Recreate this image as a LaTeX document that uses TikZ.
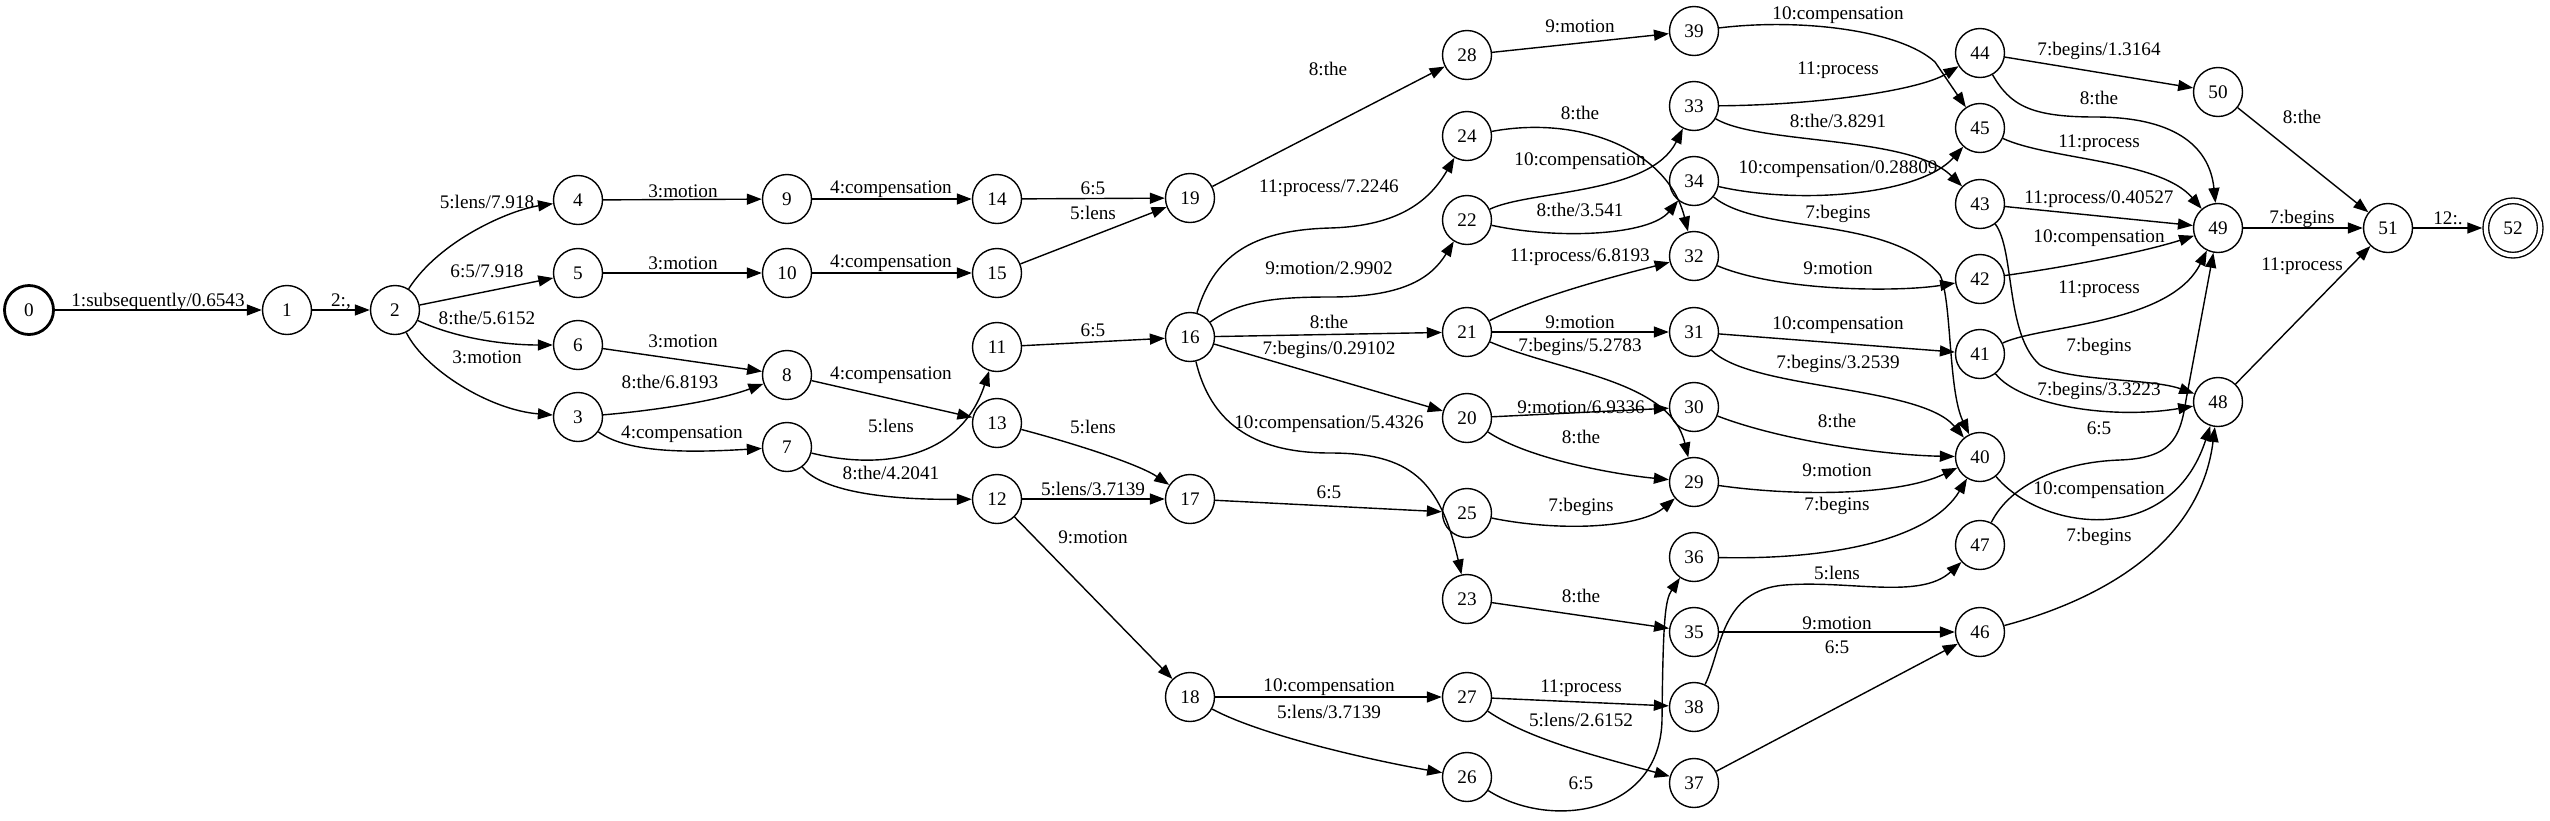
\documentclass[tikz,border=0pt]{standalone}
\usepackage{fontspec}
\setmainfont{Liberation Serif}
\usetikzlibrary{arrows.meta}

\begin{document}
\begin{tikzpicture}[
					x=0.5pt, y=-0.5pt,
					statenode/.style={
						draw,
						circle,
						minimum size=24.5pt,
						inner sep=0pt,
						line width=0.7pt,
						font=\fontsize{9.6}{11}\selectfont
					},
					startstate/.style={
						statenode,
						line width=1.4pt
					},
					finalstate/.style={
						statenode,
						double,
						double distance=2.1pt,
						minimum size=27.2pt,
						outer sep=1.75pt
					},
					edgeline/.style={
						-{Triangle[length=7.5pt, width=5.5pt]},
						line width=0.7pt
					},
					edgelabel/.style={
						inner sep=0pt,
						font=\fontsize{9.6}{11}\selectfont
					}
					]
					
					\useasboundingbox (0,0) rectangle (2550,820);
					
					% States
					\node (n0) [startstate] at (29,310) {0};
					\node (n1) [statenode] at (287,310) {1};
					\node (n2) [statenode] at (395,310) {2};
					\node (n4) [statenode] at (578,200) {4};
					\node (n5) [statenode] at (578,273) {5};
					\node (n6) [statenode] at (578,345) {6};
					\node (n3) [statenode] at (578,417) {3};
					\node (n9) [statenode] at (787,199) {9};
					\node (n10) [statenode] at (787,273) {10};
					\node (n8) [statenode] at (787,375) {8};
					\node (n7) [statenode] at (787,447) {7};
					\node (n14) [statenode] at (997,199) {14};
					\node (n15) [statenode] at (997,273) {15};
					\node (n11) [statenode] at (997,347) {11};
					\node (n13) [statenode] at (997,423) {13};
					\node (n12) [statenode] at (997,499) {12};
					\node (n19) [statenode] at (1190,198) {19};
					\node (n16) [statenode] at (1190,337) {16};
					\node (n17) [statenode] at (1190,499) {17};
					\node (n18) [statenode] at (1190,697) {18};
					\node (n28) [statenode] at (1467,55) {28};
					\node (n24) [statenode] at (1467,136) {24};
					\node (n22) [statenode] at (1467,220) {22};
					\node (n21) [statenode] at (1467,332) {21};
					\node (n20) [statenode] at (1467,418) {20};
					\node (n25) [statenode] at (1467,513) {25};
					\node (n23) [statenode] at (1467,599) {23};
					\node (n27) [statenode] at (1467,697) {27};
					\node (n26) [statenode] at (1467,777) {26};
					\node (n39) [statenode] at (1694,31) {39};
					\node (n33) [statenode] at (1694,106) {33};
					\node (n34) [statenode] at (1694,181) {34};
					\node (n32) [statenode] at (1694,256) {32};
					\node (n31) [statenode] at (1694,332) {31};
					\node (n30) [statenode] at (1694,407) {30};
					\node (n29) [statenode] at (1694,482) {29};
					\node (n36) [statenode] at (1694,557) {36};
					\node (n35) [statenode] at (1694,632) {35};
					\node (n38) [statenode] at (1694,707) {38};
					\node (n37) [statenode] at (1694,783) {37};
					\node (n44) [statenode] at (1980,53) {44};
					\node (n45) [statenode] at (1980,128) {45};
					\node (n43) [statenode] at (1980,204) {43};
					\node (n42) [statenode] at (1980,279) {42};
					\node (n41) [statenode] at (1980,354) {41};
					\node (n40) [statenode] at (1980,457) {40};
					\node (n47) [statenode] at (1980,545) {47};
					\node (n46) [statenode] at (1980,632) {46};
					\node (n50) [statenode] at (2218,92) {50};
					\node (n49) [statenode] at (2218,228) {49};
					\node (n48) [statenode] at (2218,402) {48};
					\node (n51) [statenode] at (2388,228) {51};
					\node (n52) [finalstate] at (2513,228) {52};
					
					% Arcs, first columns
					\draw [edgeline] (n0) -- (n1) node [edgelabel] at (158,302) {1:subsequently/0.6543};
					\draw [edgeline] (n1) -- (n2) node [edgelabel] at (341,302) {2:,};
					\draw [edgeline] (n2) .. controls (440,240) and (510,210) .. (n4) node [edgelabel] at (487,202) {5:lens/7.918};
					\draw [edgeline] (n2) -- (n5) node [edgelabel] at (487,271) {6:5/7.918};
					\draw [edgeline] (n2) .. controls (460,340) and (510,345) .. (n6) node [edgelabel] at (487,318) {8:the/5.6152};
					\draw [edgeline] (n2) .. controls (425,370) and (490,410) .. (n3) node [edgelabel] at (487,357) {3:motion};
					\draw [edgeline] (n4) -- (n9) node [edgelabel] at (683,191) {3:motion};
					\draw [edgeline] (n5) -- (n10) node [edgelabel] at (683,263) {3:motion};
					\draw [edgeline] (n6) -- (n8) node [edgelabel] at (683,341) {3:motion};
					\draw [edgeline] (n3) .. controls (660,410) and (720,400) .. (n8) node [edgelabel] at (670,382) {8:the/6.8193};
					\draw [edgeline] (n3) .. controls (630,455) and (700,452) .. (n7) node [edgelabel] at (682,434) {4:compensation};
					\draw [edgeline] (n9) -- (n14) node [edgelabel] at (891,189) {4:compensation};
					\draw [edgeline] (n10) -- (n15) node [edgelabel] at (891,263) {4:compensation};
					\draw [edgeline] (n8) -- (n13) node [edgelabel] at (891,375) {4:compensation};
					\draw [edgeline] (n7) .. controls (880,470) and (960,460) .. (n11) node [edgelabel] at (891,426) {5:lens};
					\draw [edgeline] (n7) .. controls (820,490) and (880,500) .. (n12) node [edgelabel] at (891,473) {8:the/4.2041};
					\draw [edgeline] (n14) -- (n19) node [edgelabel] at (1093,188) {6:5};
					\draw [edgeline] (n15) -- (n19) node [edgelabel] at (1093,213) {5:lens};
					\draw [edgeline] (n11) -- (n16) node [edgelabel] at (1093,330) {6:5};
					\draw [edgeline] (n13) .. controls (1080,445) and (1140,465) .. (n17) node [edgelabel] at (1093,427) {5:lens};
					\draw [edgeline] (n12) -- (n17) node [edgelabel] at (1093,489) {5:lens/3.7139};
					\draw [edgeline] (n12) -- (n18) node [edgelabel] at (1093,537) {9:motion};
					
					% Arcs, middle columns
					\draw [edgeline] (n19) -- (n28) node [edgelabel] at (1328,69) {8:the};
					\draw [edgeline] (n16) .. controls (1215,250) and (1260,230) .. (1330,228) .. controls (1400,226) and (1430,200) .. (n24) node [edgelabel] at (1329,188) {11:process/7.2246};
					\draw [edgeline] (n16) .. controls (1240,300) and (1280,297) .. (1330,297) .. controls (1400,297) and (1430,280) .. (n22) node [edgelabel] at (1329,268) {9:motion/2.9902};
					\draw [edgeline] (n16) -- (n21) node [edgelabel] at (1329,322) {8:the};
					\draw [edgeline] (n16) -- (n20) node [edgelabel] at (1329,350) {7:begins/0.29102};
					\draw [edgeline] (n16) .. controls (1210,420) and (1250,453) .. (1330,453) .. controls (1410,453) and (1440,480) .. (n23) node [edgelabel] at (1329,424) {10:compensation/5.4326};
					\draw [edgeline] (n17) -- (n25) node [edgelabel] at (1329,492) {6:5};
					\draw [edgeline] (n18) -- (n27) node [edgelabel] at (1329,687) {10:compensation};
					\draw [edgeline] (n18) .. controls (1260,735) and (1370,760) .. (n26) node [edgelabel] at (1329,712) {5:lens/3.7139};
					\draw [edgeline] (n28) -- (n39) node [edgelabel] at (1580,26) {9:motion};
					\draw [edgeline] (n24) .. controls (1580,115) and (1668,150) .. (n32) node [edgelabel] at (1580,113) {8:the};
					\draw [edgeline] (n22) .. controls (1530,190) and (1650,195) .. (n33) node [edgelabel] at (1580,161) {10:compensation};
					\draw [edgeline] (n22) .. controls (1560,240) and (1650,235) .. (n34) node [edgelabel] at (1580,210) {8:the/3.541};
					\draw [edgeline] (n21) .. controls (1540,295) and (1620,275) .. (n32) node [edgelabel] at (1580,257) {11:process/6.8193};
					\draw [edgeline] (n21) -- (n31) node [edgelabel] at (1580,322) {9:motion};
					\draw [edgeline] (n21) .. controls (1560,372) and (1670,380) .. (n29) node [edgelabel] at (1580,347) {7:begins/5.2783};
					\draw [edgeline] (n20) -- (n30) node [edgelabel] at (1581,407) {9:motion/6.9336};
					\draw [edgeline] (n20) .. controls (1530,460) and (1620,475) .. (n29) node [edgelabel] at (1581,437) {8:the};
					\draw [edgeline] (n25) .. controls (1560,532) and (1640,528) .. (n29) node [edgelabel] at (1581,507) {7:begins};
					\draw [edgeline] (n23) -- (n35) node [edgelabel] at (1581,596) {8:the};
					\draw [edgeline] (n27) -- (n38) node [edgelabel] at (1581,688) {11:process};
					\draw [edgeline] (n27) .. controls (1530,740) and (1600,757) .. (n37) node [edgelabel] at (1581,720) {5:lens/2.6152};
					\draw [edgeline] (n26) .. controls (1550,830) and (1660,815) .. (1662,720) .. controls (1663,620) and (1665,600) .. (n36) node [edgelabel] at (1581,783) {6:5};
					
					% Arcs, right columns
					\draw [edgeline] (n39) .. controls (1800,18) and (1900,30) .. (1935,62) -- (n45) node [edgelabel] at (1838,15) {10:compensation};
					\draw [edgeline] (n33) .. controls (1820,105) and (1920,90) .. (n44) node [edgelabel] at (1838,70) {11:process};
					\draw [edgeline] (n33) .. controls (1760,145) and (1910,135) .. (n43) node [edgelabel] at (1838,121) {8:the/3.8291};
					\draw [edgeline] (n34) .. controls (1800,205) and (1920,195) .. (n45) node [edgelabel] at (1838,169) {10:compensation/0.28809};
					\draw [edgeline] (n34) .. controls (1760,235) and (1890,215) .. (1940,275) .. controls (1952,300) and (1948,390) .. (n40) node [edgelabel] at (1838,214) {7:begins};
					\draw [edgeline] (n32) .. controls (1780,292) and (1900,292) .. (n42) node [edgelabel] at (1838,268) {9:motion};
					\draw [edgeline] (n31) -- (n41) node [edgelabel] at (1838,325) {10:compensation};
					\draw [edgeline] (n31) .. controls (1750,390) and (1920,385) .. (n40) node [edgelabel] at (1838,364) {7:begins/3.2539};
					\draw [edgeline] (n30) .. controls (1780,440) and (1880,455) .. (n40) node [edgelabel] at (1837,421) {8:the};
					\draw [edgeline] (n29) .. controls (1800,497) and (1900,495) .. (n40) node [edgelabel] at (1837,470) {9:motion};
					\draw [edgeline] (n36) .. controls (1830,560) and (1930,540) .. (n40) node [edgelabel] at (1837,506) {7:begins};
					\draw [edgeline] (n38) .. controls (1722,650) and (1720,590) .. (1785,585) .. controls (1850,580) and (1920,600) .. (n47) node [edgelabel] at (1837,573) {5:lens};
					\draw [edgeline] (n35) -- (n46) node [edgelabel] at (1837,623) {9:motion};
					\draw [edgeline] (n37) -- (n46) node [edgelabel] at (1837,647) {6:5};
					\draw [edgeline] (n44) -- (n50) node [edgelabel] at (2099,51) {7:begins/1.3164};
					\draw [edgeline] (n44) .. controls (2010,105) and (2030,117) .. (2095,117) .. controls (2180,117) and (2210,150) .. (n49) node [edgelabel] at (2099,98) {8:the};
					\draw [edgeline] (n45) .. controls (2050,160) and (2160,160) .. (n49) node [edgelabel] at (2099,143) {11:process};
					\draw [edgeline] (n43) -- (n49) node [edgelabel] at (2099,199) {11:process/0.40527};
					\draw [edgeline] (n42) .. controls (2080,265) and (2150,250) .. (n49) node [edgelabel] at (2099,238) {10:compensation};
					\draw [edgeline] (n41) .. controls (2040,325) and (2170,325) .. (n49) node [edgelabel] at (2099,289) {11:process};
					\draw [edgeline] (n43) .. controls (2015,250) and (2005,335) .. (2040,365) .. controls (2070,382) and (2150,378) .. (n48) node [edgelabel] at (2099,347) {7:begins};
					\draw [edgeline] (n41) .. controls (2020,405) and (2110,420) .. (n48) node [edgelabel] at (2099,391) {7:begins/3.3223};
					\draw [edgeline] (n47) .. controls (2010,485) and (2060,462) .. (2120,460) .. controls (2170,458) and (2180,440) .. (2186,400) -- (n49) node [edgelabel] at (2099,428) {6:5};
					\draw [edgeline] (n40) .. controls (2040,530) and (2170,550) .. (n48) node [edgelabel] at (2099,490) {10:compensation};
					\draw [edgeline] (n46) .. controls (2100,600) and (2200,545) .. (n48) node [edgelabel] at (2099,537) {7:begins};
					\draw [edgeline] (n50) -- (n51) node [edgelabel] at (2302,117) {8:the};
					\draw [edgeline] (n49) -- (n51) node [edgelabel] at (2302,219) {7:begins};
					\draw [edgeline] (n48) -- (n51) node [edgelabel] at (2302,266) {11:process};
					\draw [edgeline] (n51) -- (n52) node [edgelabel] at (2448,218) {12:.};
					
				\end{tikzpicture}
\end{document}
